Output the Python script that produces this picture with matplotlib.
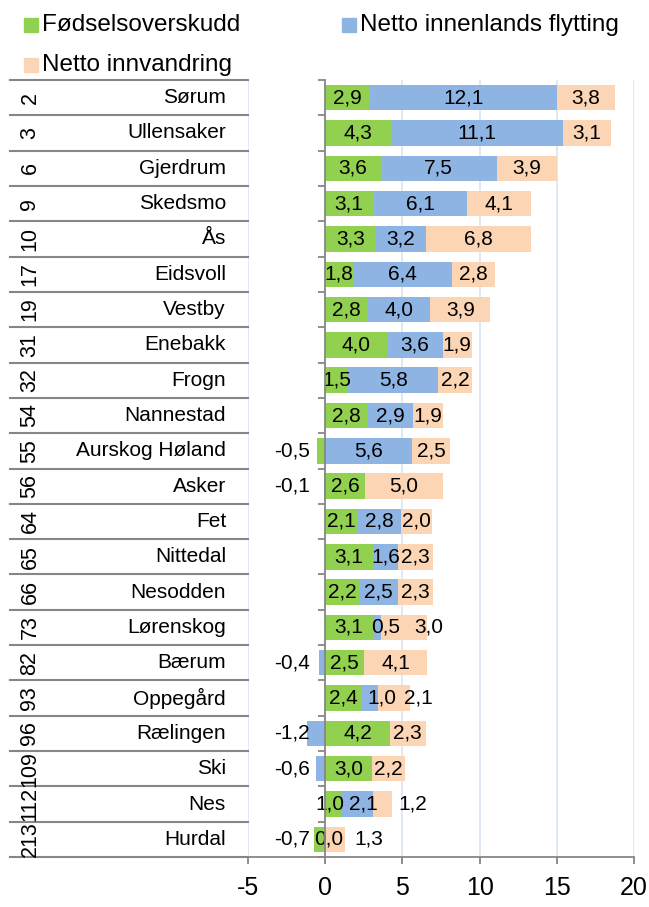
import numpy as np
import matplotlib
matplotlib.use('Agg')
import matplotlib.pyplot as plt
from matplotlib.patches import Rectangle

plt.rcParams['font.family'] = ['Liberation Sans', 'DejaVu Sans']

# Data
ranks = [2, 3, 6, 9, 10, 17, 19, 31, 32, 54, 55, 56, 64, 65, 66, 73, 82, 93, 96, 109, 112, 213]
kommuner = ['Sørum', 'Ullensaker', 'Gjerdrum', 'Skedsmo', 'Ås', 'Eidsvoll', 'Vestby',
            'Enebakk', 'Frogn', 'Nannestad', 'Aurskog Høland', 'Asker', 'Fet', 'Nittedal',
            'Nesodden', 'Lørenskog', 'Bærum', 'Oppegård', 'Rælingen', 'Ski', 'Nes', 'Hurdal']
fodsel = [2.9, 4.3, 3.6, 3.1, 3.3, 1.8, 2.8, 4.0, 1.5, 2.8, -0.5, 2.6, 2.1, 3.1, 2.2, 3.1,
          2.5, 2.4, 4.2, 3.0, 1.0, -0.7]
innenlands = [12.1, 11.1, 7.5, 6.1, 3.2, 6.4, 4.0, 3.6, 5.8, 2.9, 5.6, -0.1, 2.8, 1.6, 2.5, 0.5,
              -0.4, 1.0, -1.2, -0.6, 2.1, 0.0]
innvandring = [3.8, 3.1, 3.9, 4.1, 6.8, 2.8, 3.9, 1.9, 2.2, 1.9, 2.5, 5.0, 2.0, 2.3, 2.3, 3.0,
               4.1, 2.1, 2.3, 2.2, 1.2, 1.3]
serier = ['Fødselsoverskudd', 'Netto innenlands flytting', 'Netto innvandring']
farger = ['#92D050', '#8EB4E3', '#FCD5B5']

# label nudges (row, series) -> x shift, as in the original
nudge = {(15, 1): 0.55, (15, 2): 1.6, (17, 1): 0.8, (17, 2): 1.6,
         (20, 0): -0.2, (20, 1): 0.4, (20, 2): 1.95, (21, 1): 0.2, (21, 2): 2.15}

fig = plt.figure(figsize=(6.49, 9.07), dpi=100)
ax = fig.add_axes([248/649, 1 - 857/907, (634 - 248)/649, (857 - 80)/907])

n = len(kommuner)
y = np.arange(n)
pos = np.zeros(n)
neg = np.zeros(n)
fs = 15
for s, vals in enumerate([fodsel, innenlands, innvandring]):
    vals = np.array(vals)
    left = np.where(vals >= 0, pos, neg)
    ax.barh(y, vals, left=left, height=0.72, color=farger[s], zorder=2)
    for i, v in enumerate(vals):
        txt = f'{v:.1f}'.replace('.', ',')
        if v < 0:
            ax.text(-1.0, i, txt, ha='right', va='center', fontsize=fs, zorder=3)
        else:
            xc = left[i] + v / 2 + nudge.get((i, s), 0)
            ax.text(xc, i, txt, ha='center', va='center', fontsize=fs, zorder=3)
    pos = np.where(vals >= 0, pos + vals, pos)
    neg = np.where(vals < 0, neg + vals, neg)

ax.set_xlim(-5, 20)
ax.set_ylim(n - 0.5, -0.5)
ax.set_xticks([-5, 0, 5, 10, 15, 20])
ax.set_xticklabels(['-5', '0', '5', '10', '15', '20'], fontsize=18)
for gx in [-5, 5, 10, 15, 20]:
    ax.axvline(gx, color='#DCE6F2', lw=1.3, zorder=1)

for sp in ['top', 'right']:
    ax.spines[sp].set_visible(False)
ax.spines['left'].set_position(('data', 0))
ax.spines['left'].set_color('#868686')
ax.spines['left'].set_linewidth(1.3)
ax.spines['left'].set_zorder(4)
ax.spines['bottom'].set_color('#868686')
ax.spines['bottom'].set_linewidth(1.3)
ax.set_yticks([])
ax.set_yticks(np.arange(n + 1) - 0.5, minor=True)
ax.tick_params(axis='y', which='minor', length=5, width=1.3, color='#868686', direction='out')
ax.tick_params(axis='x', length=5, width=1.3, color='#868686', pad=9)

# left table with rank and name
tr = ax.get_yaxis_transform()
x0 = (10 - 248) / 386
for b in np.arange(n + 1) - 0.5:
    ax.plot([x0, 0], [b, b], color='#868686', lw=1.5, transform=tr, clip_on=False)
for i in range(n):
    ax.text((30 - 248) / 386, i, str(ranks[i]), rotation=90, ha='center', va='center',
            fontsize=15.5, transform=tr)
    ax.text((226 - 248) / 386, i, kommuner[i], ha='right', va='center',
            fontsize=15, transform=tr)

# legend
W, H = 649, 907
leg = [(24, 25, 0), (342, 25, 1), (24, 65, 2)]
for lx, ly, s in leg:
    fig.add_artist(Rectangle((lx / W, 1 - (ly + 7) / H), 14 / W, 14 / H,
                             color=farger[s], transform=fig.transFigure))
    fig.text((lx + 18) / W, 1 - ly / H, serier[s], ha='left', va='center', fontsize=17.5)

fig.savefig('out.png', dpi=100)
